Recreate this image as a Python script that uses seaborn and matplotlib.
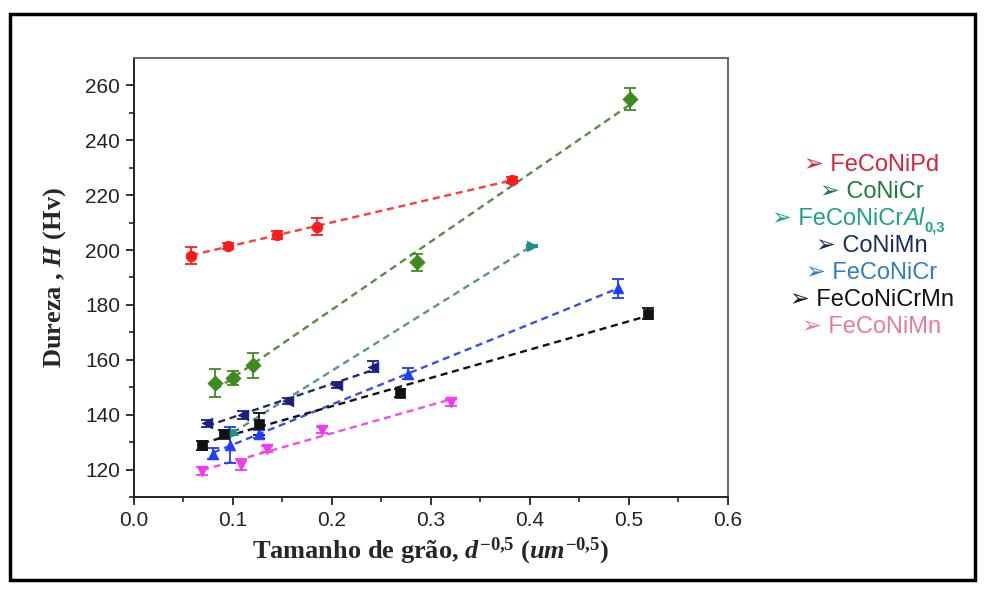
import numpy as np
import pandas as pd
import matplotlib
matplotlib.use("Agg")
import matplotlib.pyplot as plt
import seaborn as sns
from matplotlib.patches import Rectangle

# ---- data ----
pd_x = [0.058, 0.095, 0.145, 0.185, 0.382]
pd_y = [198.0, 201.5, 205.5, 208.5, 225.5]
pd_e = [3.0, 1.0, 1.5, 3.0, 1.0]

cr_x = [0.082, 0.100, 0.120, 0.286, 0.501]
cr_y = [151.5, 153.5, 158.0, 195.5, 255.0]
cr_e = [5.0, 2.5, 4.5, 3.0, 4.0]

al_x = [0.100, 0.402]
al_y = [133.5, 201.5]
al_e = [1.0, 0.5]

mn_x = [0.074, 0.110, 0.156, 0.205, 0.241]
mn_y = [136.8, 140.0, 145.0, 150.8, 157.5]
mn_e = [1.2, 1.5, 1.0, 1.2, 2.0]

fcr_x = [0.080, 0.097, 0.126, 0.277, 0.489]
fcr_y = [125.8, 129.0, 133.0, 155.0, 186.0]
fcr_e = [2.0, 6.5, 1.5, 2.0, 3.5]

cm_x = [0.069, 0.091, 0.126, 0.269, 0.519]
cm_y = [128.8, 133.0, 136.5, 148.0, 176.8]
cm_e = [1.5, 1.5, 4.0, 1.5, 2.0]

fm_x = [0.069, 0.108, 0.134, 0.190, 0.320]
fm_y = [119.5, 121.8, 127.5, 134.5, 144.5]
fm_e = [1.5, 2.0, 1.0, 1.0, 1.2]

series = [
    ("FeCoNiPd", pd_x, pd_y, pd_e, "#ff1a1a", "#ff3b3b", "o"),
    ("CoNiCr", cr_x, cr_y, cr_e, "#3b8c1c", "#5a8a4a", "D"),
    ("FeCoNiCrAl", al_x, al_y, al_e, "#1f8f8a", "#5c9590", ">"),
    ("CoNiMn", mn_x, mn_y, mn_e, "#1a1f80", "#23287a", "<"),
    ("FeCoNiCr", fcr_x, fcr_y, fcr_e, "#1f3cff", "#3a4fe0", "^"),
    ("FeCoNiCrMn", cm_x, cm_y, cm_e, "#111111", "#111111", "s"),
    ("FeCoNiMn", fm_x, fm_y, fm_e, "#f03af0", "#f050e8", "v"),
]

legend_labels = ["FeCoNiPd", "CoNiCr", "FeCoNiCr", "CoNiMn",
                 "FeCoNiCr", "FeCoNiCrMn", "FeCoNiMn"]
legend_colors = ["#d8233c", "#1f7a3e", "#1fa383", "#1c2a5c", "#2f7fc4", "#111111", "#e77d98"]
al_suffix = "Al"
al_sub = "0,3"

x_ticks = [0.0, 0.1, 0.2, 0.3, 0.4, 0.5, 0.6]
y_ticks = [120, 140, 160, 180, 200, 220, 240, 260]

# ---- style ----
sns.set_style("ticks")
plt.rcParams["font.family"] = ["Liberation Sans", "DejaVu Sans"]
plt.rcParams["mathtext.fontset"] = "custom"
plt.rcParams["mathtext.rm"] = "Liberation Serif:bold"
plt.rcParams["mathtext.it"] = "Liberation Serif:italic:bold"
plt.rcParams["mathtext.bf"] = "Liberation Serif:bold"

fig = plt.figure(figsize=(9.85, 5.91), dpi=100)
ax = fig.add_axes([0.136, 0.159, 0.603, 0.743])

for name, xs, ys, es, mc, lc, mk in series:
    df = pd.DataFrame({"x": xs, "y": ys})
    sns.regplot(data=df, x="x", y="y", ax=ax, ci=None, scatter=False, truncate=True,
                line_kws=dict(color=lc, lw=1.7, ls=(0, (3, 2))))
    ax.errorbar(xs, ys, yerr=es, fmt="none", ecolor=mc, elinewidth=1.3,
                capsize=4, capthick=1.3, zorder=3)
    sns.scatterplot(data=df, x="x", y="y", ax=ax, color=mc, marker=mk, s=60,
                    edgecolor=mc, linewidth=0.5, zorder=4, legend=False)

ax.set_xlim(0, 0.6)
ax.set_ylim(110, 270)
ax.set_xticks(x_ticks)
ax.set_xticklabels([f"{t:.1f}" for t in x_ticks])
ax.set_yticks(y_ticks)
ax.set_xticks(np.arange(0.05, 0.6, 0.1), minor=True)
ax.set_yticks(np.arange(110, 270, 20), minor=True)
ax.tick_params(axis="both", which="major", direction="out", length=6, width=1.3,
               labelsize=15, colors="#222222", pad=4)
ax.tick_params(axis="both", which="minor", direction="out", length=3.5, width=1.2)
for s in ["left", "bottom"]:
    ax.spines[s].set_linewidth(1.4)
    ax.spines[s].set_color("#222222")
for s in ["top", "right"]:
    ax.spines[s].set_visible(True)
    ax.spines[s].set_linewidth(1.4)
    ax.spines[s].set_color("#666666")

ax.set_xlabel("Tamanho de grão, $d^{-0{,}5}$ $(um^{-0{,}5})$", fontsize=19,
              fontfamily="Liberation Serif", fontweight="bold", labelpad=4)
ax.set_ylabel("Dureza , $H$ (Hv)", fontsize=19, fontfamily="Liberation Serif",
              fontweight="bold", labelpad=12)

# legend as text entries
fs = 17
y0 = 1 - 165 / 591
dy = 27.0 / 591
for i, (lab, col) in enumerate(zip(legend_labels, legend_colors)):
    y = y0 - i * dy
    if i == 2:
        t1 = fig.text(772 / 985, y, "\u27a2 " + lab, color=col, fontsize=fs,
                      ha="left", va="center", family=["Liberation Sans", "DejaVu Sans"])
        t2 = plt.annotate(al_suffix, xy=(1, 0), xycoords=t1, ha="left", va="bottom",
                          color=col, fontsize=fs, fontstyle="italic",
                          family="Liberation Sans", annotation_clip=False)
        plt.annotate(al_sub, xy=(1, 0), xycoords=t2, xytext=(0.5, -3),
                     textcoords="offset points", ha="left", va="bottom",
                     color=col, fontsize=fs * 0.62, fontweight="bold",
                     family="Liberation Sans", annotation_clip=False)
    else:
        fig.text(0.885, y, "\u27a2 " + lab, color=col, fontsize=fs,
                 ha="center", va="center", family=["Liberation Sans", "DejaVu Sans"])

# outer frame
fig.patches.append(Rectangle((10 / 985, 1 - 580 / 591), 965 / 985, 566 / 591,
                             transform=fig.transFigure, fill=False, lw=2.5,
                             edgecolor="black"))

fig.savefig("out.png", dpi=100)
